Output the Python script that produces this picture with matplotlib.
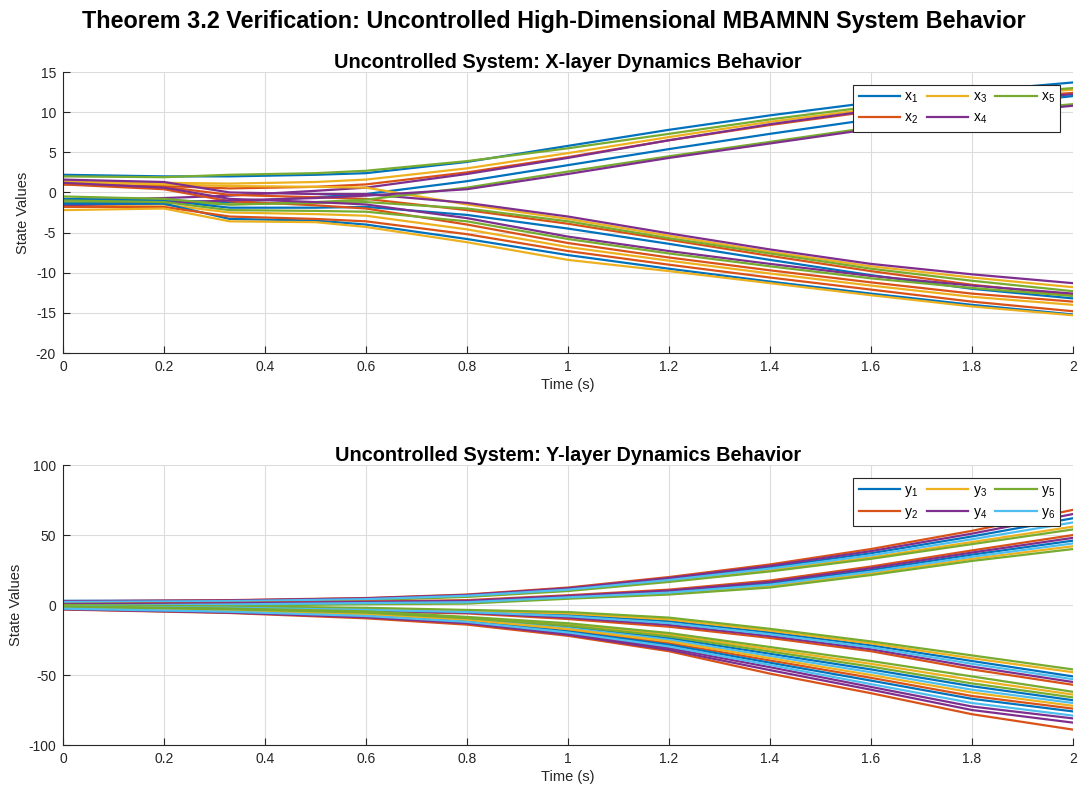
import matplotlib.pyplot as plt
import numpy as np

plt.rcParams['font.family'] = ['Liberation Sans', 'DejaVu Sans']
plt.rcParams['mathtext.default'] = 'regular'
plt.rcParams['axes.unicode_minus'] = False

# MATLAB default colour order
matlab_colors = ['#0072BD', '#D95319', '#EDB120', '#7E2F8E', '#77AC30', '#4DBEEE']

# ---- X layer: 20 states, colours cycle over the first 5 ----
t_x = [0, 0.2, 0.33, 0.5, 0.6, 0.8, 1.0, 1.2, 1.4, 1.6, 1.8, 2.0]
x_states = [
    [2.2, 2.0, 2.0, 2.2, 2.4, 3.8, 5.8, 7.8, 9.6, 11.2, 12.6, 13.7],
    [1.0, 0.8, 0.5, 0.7, 1.0, 2.5, 4.4, 6.5, 8.4, 10.1, 11.5, 12.4],
    [1.4, 1.2, 1.1, 1.3, 1.6, 3.0, 4.9, 6.9, 8.8, 10.4, 11.8, 12.8],
    [-1.0, -0.7, -0.4, 0.2, 0.6, 2.3, 4.3, 6.5, 8.5, 10.2, 11.6, 12.2],
    [2.0, 1.9, 2.2, 2.4, 2.7, 3.9, 5.5, 7.3, 9.1, 10.7, 12.0, 13.0],
    [-0.8, -1.0, -1.2, -0.6, -0.2, 1.4, 3.4, 5.4, 7.3, 9.1, 10.7, 12.0],
    [1.1, 0.7, -0.3, -0.6, -0.8, -2.2, -3.9, -5.9, -7.9, -9.8, -11.5, -12.8],
    [1.3, 1.0, 0.8, 0.7, 0.6, -1.5, -3.3, -5.4, -7.4, -9.2, -10.6, -11.8],
    [1.6, 1.3, 0.0, -0.2, -0.2, -1.3, -3.0, -5.1, -7.1, -8.9, -10.2, -11.3],
    [-1.3, -1.1, -1.5, -1.2, -0.9, 0.6, 2.6, 4.5, 6.3, 8.1, 9.8, 11.0],
    [-0.9, -1.0, -1.9, -1.9, -1.8, -2.8, -4.5, -6.4, -8.4, -10.3, -12.0, -13.2],
    [1.0, 0.4, -1.1, -1.6, -2.0, -4.0, -6.3, -8.1, -9.7, -11.2, -12.6, -13.6],
    [-1.6, -1.5, -2.5, -2.7, -2.9, -4.6, -6.8, -8.5, -10.1, -11.6, -13.0, -14.0],
    [-1.6, -1.3, -1.0, -0.7, -0.4, 0.4, 2.3, 4.3, 6.1, 7.9, 9.6, 10.8],
    [-0.5, -0.8, -1.5, -1.3, -1.2, -2.0, -3.6, -5.7, -7.6, -9.5, -11.0, -12.3],
    [-1.4, -1.4, -3.3, -3.5, -4.0, -5.8, -7.8, -9.5, -11.1, -12.6, -14.0, -15.2],
    [-1.8, -1.8, -3.0, -3.3, -3.6, -5.2, -7.3, -9.0, -10.6, -12.1, -13.6, -14.8],
    [-2.2, -2.0, -3.6, -3.7, -4.3, -6.2, -8.4, -9.8, -11.3, -12.8, -14.2, -15.3],
    [1.2, 0.6, -0.8, -1.2, -1.5, -3.2, -5.5, -7.3, -8.9, -10.4, -11.6, -12.6],
    [-1.0, -1.2, -2.2, -2.3, -2.4, -3.6, -5.8, -7.6, -9.2, -10.7, -11.9, -12.9],
]
x_labels = ['x$_1$', 'x$_2$', 'x$_3$', 'x$_4$', 'x$_5$']

# ---- Y layer: 30 states, colours cycle over all 6 ----
t_y = [0, 0.33, 0.6, 0.8, 1.0, 1.2, 1.4, 1.6, 1.8, 2.0]
y_states = [
    # upper bundle A
    [3.0, 3.0, 4.5, 6.9, 11.5, 18.6, 27.0, 37.0, 49.0, 62],
    [2.5, 3.5, 5.0, 7.5, 12.5, 20.0, 29.0, 40.0, 53.0, 68],
    [1.5, 2.5, 3.9, 6.2, 10.5, 17.2, 25.0, 34.0, 45.0, 56],
    [2.8, 3.3, 4.8, 7.2, 12.0, 19.3, 28.0, 38.5, 51.0, 65],
    [1.0, 2.0, 3.5, 5.8, 10.0, 16.5, 24.0, 33.0, 43.5, 54],
    [2.2, 2.8, 4.2, 6.6, 11.0, 17.9, 26.0, 35.5, 47.0, 59],
    # upper bundle B
    [0.0, 0.8, 1.8, 2.5, 6.0, 9.6, 15.5, 25.0, 36.0, 46],
    [0.8, 1.5, 2.5, 3.5, 7.0, 11.0, 17.5, 27.5, 39.0, 50],
    [-1.0, 0.0, 1.0, 1.5, 5.0, 8.2, 13.5, 22.6, 33.0, 42],
    [0.5, 1.2, 2.2, 3.0, 6.5, 10.3, 16.5, 26.3, 37.5, 48],
    [-1.5, -0.4, 0.6, 1.0, 4.5, 7.5, 12.5, 21.4, 31.5, 40],
    [-0.5, 0.4, 1.4, 2.0, 5.5, 8.9, 14.5, 23.8, 34.5, 44],
    # lower bundle C
    [-0.6, -1.6, -3.0, -4.5, -7.0, -11.6, -19.6, -28.8, -40.0, -51],
    [-1.5, -2.5, -4.5, -6.0, -10.0, -15.5, -23.5, -33.0, -46.0, -57],
    [-0.3, -1.3, -2.5, -4.0, -6.0, -10.3, -18.3, -27.4, -38.0, -48],
    [-1.2, -2.2, -4.0, -5.5, -9.0, -14.2, -22.2, -31.6, -44.0, -55],
    [0.0, -1.0, -2.0, -3.5, -5.0, -9.0, -17.0, -26.0, -36.0, -46],
    [-0.9, -1.9, -3.5, -5.0, -8.0, -12.9, -20.9, -30.2, -42.0, -53],
    # lower bundle D
    [-1.6, -3.3, -5.8, -9.8, -15.6, -23.6, -34.8, -46.0, -58.0, -68],
    [-2.2, -4.2, -7.0, -11.0, -18.0, -27.2, -39.6, -52.0, -65.0, -74],
    [-1.2, -2.8, -5.0, -9.0, -14.0, -21.2, -31.6, -42.0, -53.5, -64],
    [-2.8, -5.1, -8.2, -12.5, -20.4, -30.8, -44.4, -58.5, -72.5, -81],
    [-1.0, -2.5, -4.5, -8.5, -13.0, -20.0, -30.0, -40.0, -51.0, -62],
    [-1.8, -3.6, -6.2, -10.2, -16.4, -24.8, -36.4, -48.0, -60.5, -70],
    [-2.4, -4.5, -7.4, -11.5, -18.8, -28.4, -41.2, -54.0, -67.0, -76],
    [-3.2, -5.7, -9.5, -14.0, -22.0, -33.0, -49.0, -63.0, -78.0, -89],
    [-2.0, -3.9, -6.6, -10.6, -17.2, -26.0, -38.0, -50.0, -62.5, -72],
    [-3.0, -5.4, -8.8, -13.0, -21.2, -32.0, -46.5, -60.5, -75.0, -84],
    [-1.4, -3.0, -5.4, -9.4, -14.8, -22.4, -33.2, -44.0, -56.0, -66],
    [-2.6, -4.8, -7.8, -12.0, -19.6, -29.6, -42.8, -56.5, -70.0, -79],
]
y_labels = ['y$_1$', 'y$_2$', 'y$_3$', 'y$_4$', 'y$_5$', 'y$_6$']

fig = plt.figure(figsize=(10.8, 7.94), dpi=100)
ax1 = fig.add_axes([0.0583, 0.5554, 0.9352, 0.3539])
ax2 = fig.add_axes([0.0583, 0.0617, 0.9352, 0.3526])

fig.suptitle('Theorem 3.2 Verification: Uncontrolled High-Dimensional MBAMNN System Behavior',
             fontsize=16.8, fontweight='bold', x=0.513, y=0.988)


def style(ax, title):
    ax.set_title(title, fontsize=14.3, fontweight='bold', pad=3)
    ax.set_xlabel('Time (s)', fontsize=10.5, color='#262626', labelpad=3)
    ax.set_ylabel('State Values', fontsize=10.5, color='#262626', labelpad=4)
    ax.grid(True, color='#dcdcdc', linewidth=0.8)
    ax.set_axisbelow(True)
    ax.tick_params(direction='in', length=5, labelsize=10, colors='#262626', pad=5)
    for side in ['top', 'right']:
        ax.spines[side].set_visible(False)
    for side in ['left', 'bottom']:
        ax.spines[side].set_color('#262626')
    ax.set_xlim(0, 2)
    ax.set_xticks(np.arange(0, 2.01, 0.2))
    ax.set_xticklabels(['0', '0.2', '0.4', '0.6', '0.8', '1', '1.2', '1.4', '1.6', '1.8', '2'])


def add_legend(ax):
    leg = ax.legend(loc='upper right', ncol=3, fontsize=10, handlelength=3.0,
                    fancybox=False, edgecolor='#262626', framealpha=1,
                    borderaxespad=0.9, columnspacing=0.6, handletextpad=0.3,
                    labelspacing=0.4)
    leg.get_frame().set_linewidth(0.8)


cx = matlab_colors[:5]
for i, row in enumerate(x_states):
    lab = x_labels[i] if i < 5 else None
    ax1.plot(t_x, row, color=cx[i % 5], lw=1.6, label=lab)
style(ax1, 'Uncontrolled System: X-layer Dynamics Behavior')
ax1.set_ylim(-20, 15)
ax1.set_yticks(np.arange(-20, 16, 5))
add_legend(ax1)

for i, row in enumerate(y_states):
    lab = y_labels[i] if i < 6 else None
    ax2.plot(t_y, row, color=matlab_colors[i % 6], lw=1.6, label=lab)
style(ax2, 'Uncontrolled System: Y-layer Dynamics Behavior')
ax2.set_ylim(-100, 100)
ax2.set_yticks([-100, -50, 0, 50, 100])
add_legend(ax2)

fig.savefig('out.png', dpi=100)
